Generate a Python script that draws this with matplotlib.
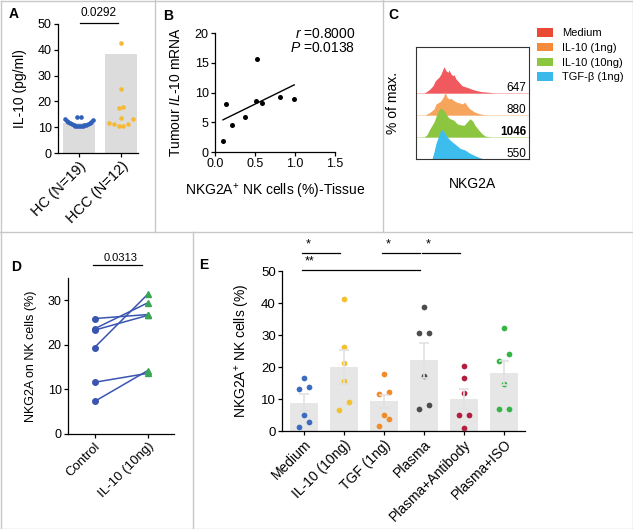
import numpy as np
import matplotlib
matplotlib.use("Agg")
import matplotlib.pyplot as plt
from matplotlib.patches import Patch
from matplotlib.lines import Line2D

plt.rcParams["font.family"] = ["Liberation Sans", "DejaVu Sans"]
plt.rcParams["mathtext.fontset"] = "custom"
plt.rcParams["mathtext.rm"] = "Liberation Sans"
plt.rcParams["mathtext.it"] = "Liberation Sans:italic"
plt.rcParams["mathtext.bf"] = "Liberation Sans:bold"
plt.rcParams["axes.linewidth"] = 0.9
plt.rcParams["xtick.major.width"] = 0.9
plt.rcParams["ytick.major.width"] = 0.9
plt.rcParams["xtick.major.size"] = 3
plt.rcParams["ytick.major.size"] = 3

# ---- data ----
# A: serum IL-10
a_groups = ["HC (N=19)", "HCC (N=12)"]
a_bars = [11.8, 38.2]
hc_vals = [10.5, 10.5, 10.55, 10.6, 10.65, 10.75, 10.85, 11.0, 11.1, 11.3,
           11.45, 11.7, 11.9, 12.2, 12.45, 12.8, 13.1, 13.8, 13.8]
hcc_vals = [42.8, 24.7, 17.3, 17.9, 13.7, 11.5, 11.2, 10.5, 10.5, 11.2, 13.1]
a_p = "0.0292"

# B: correlation
b_x = [0.10, 0.14, 0.21, 0.375, 0.51, 0.53, 0.59, 0.81, 0.99]
b_y = [1.8, 8.0, 4.6, 5.8, 8.6, 15.6, 8.2, 9.3, 8.9]

# C: histograms (channel, height)
c_names = ["Medium", "IL-10 (1ng)", "IL-10 (10ng)", "TGF-\u03b2 (1ng)"]
c_mfi = ["647", "880", "1046", "550"]
red_x = [8, 11, 14, 17, 19, 21, 23, 25, 27, 28, 30, 32, 33, 35, 37, 38, 40, 43, 46, 49, 53, 56, 61, 66, 73, 79]
red_h = [0, 1.7, 4, 7.3, 11.7, 14, 15.7, 19, 24, 26.3, 22.3, 20.7, 23, 19, 17.3, 18.3, 14, 10.7, 7.3, 6.3, 5, 3.7, 2.3, 1.3, 0.7, 0]
org_x = [9, 14, 18, 20, 23, 25, 28, 29, 31, 33, 35, 38, 41, 44, 46, 49, 51, 54, 58, 63, 68, 73]
org_h = [0, 2.7, 6, 11, 12.7, 14.3, 19.3, 23.3, 17.7, 16, 16.7, 14.3, 12.7, 12, 11, 12.7, 9.3, 6, 3.3, 1.3, 0.3, 0]
grn_x = [8, 11, 14, 18, 21, 24, 27, 29, 32, 34, 38, 41, 44, 48, 51, 54, 57, 59, 63, 66, 69, 74]
grn_h = [0, 2.3, 8.3, 15, 23.3, 29, 27.7, 25, 20, 18.3, 16.7, 13.3, 12.3, 11.7, 15, 18.3, 15.7, 11.7, 6.7, 3.3, 1, 0]
blu_x = [16, 18, 20, 23, 25, 28, 31, 34, 38, 41, 44, 49, 54, 59, 64, 68]
blu_h = [0, 7.3, 15.7, 24, 30, 27.3, 22.3, 19, 15.7, 13.3, 10.7, 9, 5.7, 3.3, 1.3, 0]

# D: paired
d_groups = ["Control", "IL-10 (10ng)"]
d_control = [25.9, 23.6, 23.3, 19.4, 11.6, 7.3]
d_il10 = [26.8, 29.4, 26.6, 31.3, 13.6, 14.2]
d_p = "0.0313"

# E: treatments
e_groups = ["Medium", "IL-10 (10ng)", "TGF (1ng)", "Plasma", "Plasma+Antibody", "Plasma+ISO"]
e_mean = [8.9, 20.0, 9.3, 22.1, 10.1, 18.1]
e_sem = [2.7, 5.2, 2.1, 5.5, 3.1, 3.8]
e_points = [
    [16.7, 13.6, 13.2, 4.9, 2.8, 1.3],
    [41.4, 26.1, 21.2, 15.7, 9.0, 6.6],
    [17.8, 11.7, 12.2, 4.9, 3.9, 1.6],
    [38.9, 30.6, 30.6, 17.1, 6.8, 8.0],
    [20.3, 16.7, 12.0, 5.1, 5.1, 0.8],
    [32.3, 24.1, 22.0, 14.7, 6.8, 7.0],
]
e_sig = [(0, 1, "*", 55.6), (2, 3, "*", 55.6), (3, 4, "*", 55.6), (0, 3, "**", 50.3)]

e_colors = ["#3b6cc0", "#f2c12e", "#f08c2a", "#4d4d4d", "#b21f40", "#34b545"]
hist_colors = ["#f0595e", "#f7a45c", "#8cc641", "#3dbdee"]
leg_colors = ["#ea4a35", "#f58a3b", "#8cc63f", "#3ab9ea"]


def swarm(vals, binw, off, step, maxw, odd_desc=False, gap_even=False):
    vals = np.asarray(vals, float)
    dx = np.zeros(len(vals))
    keys = np.floor((vals - off) / binw)
    for k in np.unique(keys):
        idx = np.where(keys == k)[0]
        n = len(idx)
        if n == 1:
            continue
        s = min(step, maxw / (n - 1))
        if n % 2:
            order = idx[np.argsort(-vals[idx] if odd_desc else vals[idx], kind="stable")]
            slots = [0] + [j * sg for j in range(1, n) for sg in (1, -1)][: n - 1]
        else:
            order = idx[np.argsort(vals[idx], kind="stable")]
            if gap_even:
                slots = [(j + 1) * sg for j in range(n) for sg in (-1, 1)][:n]
            else:
                slots = [(j + 0.5) * sg for j in range(n) for sg in (-1, 1)][:n]
        for i, sl in zip(order, slots):
            dx[i] = sl * s
    return dx


W, H = 633, 529
fig = plt.figure(figsize=(W / 100, H / 100), dpi=100)


def px_axes(x0, y0, x1, y1):
    return fig.add_axes([x0 / W, 1 - y1 / H, (x1 - x0) / W, (y1 - y0) / H])


def clean(ax):
    ax.spines["top"].set_visible(False)
    ax.spines["right"].set_visible(False)


# ---- A ----
ax = px_axes(58, 24, 137.8, 153)
clean(ax)
ax.bar([0, 1], a_bars, width=0.74, color="#dcdcdc", zorder=1)
for i, (vals, col) in enumerate([(hc_vals, "#3060b8"), (hcc_vals, "#f5b935")]):
    dx = swarm(vals, 3, 1.5, 0.114, 0.667)
    ax.scatter(i + dx, vals, s=11, color=col, lw=0, zorder=3)
ax.set_xlim(-0.5, 1.4)
ax.set_ylim(0, 50)
ax.set_yticks(range(0, 51, 10))
ax.set_xticks([0, 1])
ax.tick_params(labelsize=9, pad=1.5)
ax.set_xticklabels(a_groups, rotation=45, ha="right", rotation_mode="anchor", fontsize=10.5)
ax.set_ylabel("IL-10 (pg/ml)", fontsize=10)
ax.yaxis.set_label_coords(-0.39, 0.5)
ax.plot([0.02, 0.93], [50.4, 50.4], color="k", lw=0.9, clip_on=False)
ax.text(0.476, 54.3, a_p, ha="center", va="center", fontsize=8.5)

# ---- B ----
ax = px_axes(215, 33, 335, 152)
clean(ax)
ax.scatter(b_x, b_y, s=13, color="k", lw=0, zorder=3)
k, b0 = np.polyfit(b_x, b_y, 1)
xx = np.array([min(b_x), max(b_x)])
ax.plot(xx, k * xx + b0, color="k", lw=1)
ax.set_xlim(0, 1.5)
ax.set_ylim(0, 20)
ax.set_xticks([0, 0.5, 1.0, 1.5])
ax.set_xticklabels(["0.0", "0.5", "1.0", "1.5"])
ax.set_yticks(range(0, 21, 5))
ax.tick_params(labelsize=9, pad=1.5)
ax.set_ylabel(r"Tumour $\mathit{IL}$-$\mathit{10}$ mRNA", fontsize=10)
ax.yaxis.set_label_coords(-0.267, 0.5)
ax.set_xlabel(r"NKG2A$^{+}$ NK cells (%)-Tissue", fontsize=10)
ax.xaxis.set_label_coords(0.5, -0.25)
ax.text(1.75, 19.8, r"$\mathit{r}$ =0.8000", ha="right", va="center", fontsize=10, clip_on=False)
ax.text(1.75, 17.5, r"$\mathit{P}$ =0.0138", ha="right", va="center", fontsize=10, clip_on=False)

# ---- C ----
ax = px_axes(416, 47, 529, 159)
hists = [(red_x, red_h), (org_x, org_h), (grn_x, grn_h), (blu_x, blu_h)]
offsets = [66, 44, 22, 0]
for (hx, hh), off, col, mfi in zip(hists, offsets, hist_colors, c_mfi):
    ax.axhline(off, color=col, lw=0.6, alpha=0.45, zorder=1)
    ax.fill_between(hx, off, off + np.array(hh), color=col, lw=0, zorder=2)
    ax.text(110, off + 5, mfi, ha="right", va="center", fontsize=8.5,
            fontweight="bold" if mfi == "1046" else "normal", zorder=5)
ax.set_xlim(0, 113)
ax.set_ylim(0, 112)
ax.set_xticks([])
ax.set_yticks([])
for s in ax.spines.values():
    s.set_linewidth(0.8)
    s.set_color("#333333")
ax.set_ylabel("% of max.", fontsize=10)
ax.yaxis.set_label_coords(-0.14, 0.5)
ax.set_xlabel("NKG2A", fontsize=10)
ax.xaxis.set_label_coords(0.5, -0.16)
handles = [Patch(facecolor=c, edgecolor="none") for c in leg_colors]
fig.legend(handles, c_names, loc="upper left", bbox_to_anchor=(537 / W, 1 - 28 / H),
           frameon=False, fontsize=8, handlelength=1.44, handleheight=0.8,
           labelspacing=0.42, handletextpad=0.8, borderpad=0, borderaxespad=0)

# ---- D ----
ax = px_axes(68, 278, 174, 434)
clean(ax)
for c, t in zip(d_control, d_il10):
    ax.plot([0, 1], [c, t], color="#3a55b0", lw=1.1, zorder=2)
ax.plot([0] * len(d_control), d_control, "o", color="#3a55b0", ms=4, zorder=3)
ax.plot([1] * len(d_il10), d_il10, "^", color="#3aa655", ms=4.2, zorder=3)
ax.set_xlim(-0.5, 1.5)
ax.set_ylim(0, 35)
ax.set_yticks(range(0, 31, 10))
ax.set_xticks([0, 1])
ax.tick_params(labelsize=9, pad=1.5)
ax.set_xticklabels(d_groups, rotation=45, ha="right", rotation_mode="anchor", fontsize=9.5)
ax.set_ylabel("NKG2A on NK cells (%)", fontsize=9)
ax.yaxis.set_label_coords(-0.29, 0.5)
ax.plot([-0.025, 0.9], [37.9, 37.9], color="k", lw=0.9, clip_on=False)
ax.text(0.5, 39.5, d_p, ha="center", va="center", fontsize=8)

# ---- E ----
ax = px_axes(282, 271, 525, 431)
clean(ax)
ex = np.arange(len(e_groups))
ax.bar(ex, e_mean, width=0.68, color="#e6e6e6", zorder=1)
for i, (pts, col) in enumerate(zip(e_points, e_colors)):
    dx = swarm(pts, 5, 0, 0.133, 1.0, odd_desc=True, gap_even=True)
    ax.scatter(i + dx, pts, s=17, color=col, lw=0, zorder=3)
ax.errorbar(ex, e_mean, yerr=e_sem, fmt="none", ecolor="#e2e2e2", elinewidth=1.2,
            capsize=3.5, capthick=1.2, zorder=4)
for i, j, lab, y in e_sig:
    ax.plot([i - 0.05, j - 0.1], [y, y], color="k", lw=0.9, clip_on=False)
    ax.text(i + 0.1 + 0.05 * (len(lab) - 1), y + 0.8, lab, ha="center", va="bottom",
            fontsize=9, clip_on=False)
ax.set_xlim(-0.55, 5.525)
ax.set_ylim(0, 50)
ax.set_yticks(range(0, 51, 10))
ax.set_xticks(ex)
ax.tick_params(labelsize=9.5, pad=1.5)
ax.set_xticklabels(e_groups, rotation=45, ha="right", rotation_mode="anchor", fontsize=10)
ax.set_ylabel(r"NKG2A$^{+}$ NK cells (%)", fontsize=10)
ax.yaxis.set_label_coords(-0.123, 0.5)

# ---- panel letters ----
for lab, x, y in [("A", 14, 14), ("B", 168, 16), ("C", 393, 15), ("D", 16, 267), ("E", 204, 265)]:
    fig.text(x / W, 1 - y / H, lab, ha="center", va="center", fontsize=10, fontweight="bold")

# ---- panel frames ----
frame = [((0.5, 0.5), (0.5, 528.5)), ((0.5, 0.5), (632.5, 0.5)), ((632.5, 0.5), (632.5, 528.5)),
         ((0.5, 528.5), (632.5, 528.5)), ((0, 231.5), (633, 231.5)), ((154.5, 0), (154.5, 231.5)),
         ((382.5, 0), (382.5, 231.5)), ((192.5, 231.5), (192.5, 529))]
for (x0, y0), (x1, y1) in frame:
    fig.add_artist(Line2D([x0 / W, x1 / W], [1 - y0 / H, 1 - y1 / H], transform=fig.transFigure,
                          color="#c8c8c8", lw=1))

fig.savefig("out.png", dpi=100)
